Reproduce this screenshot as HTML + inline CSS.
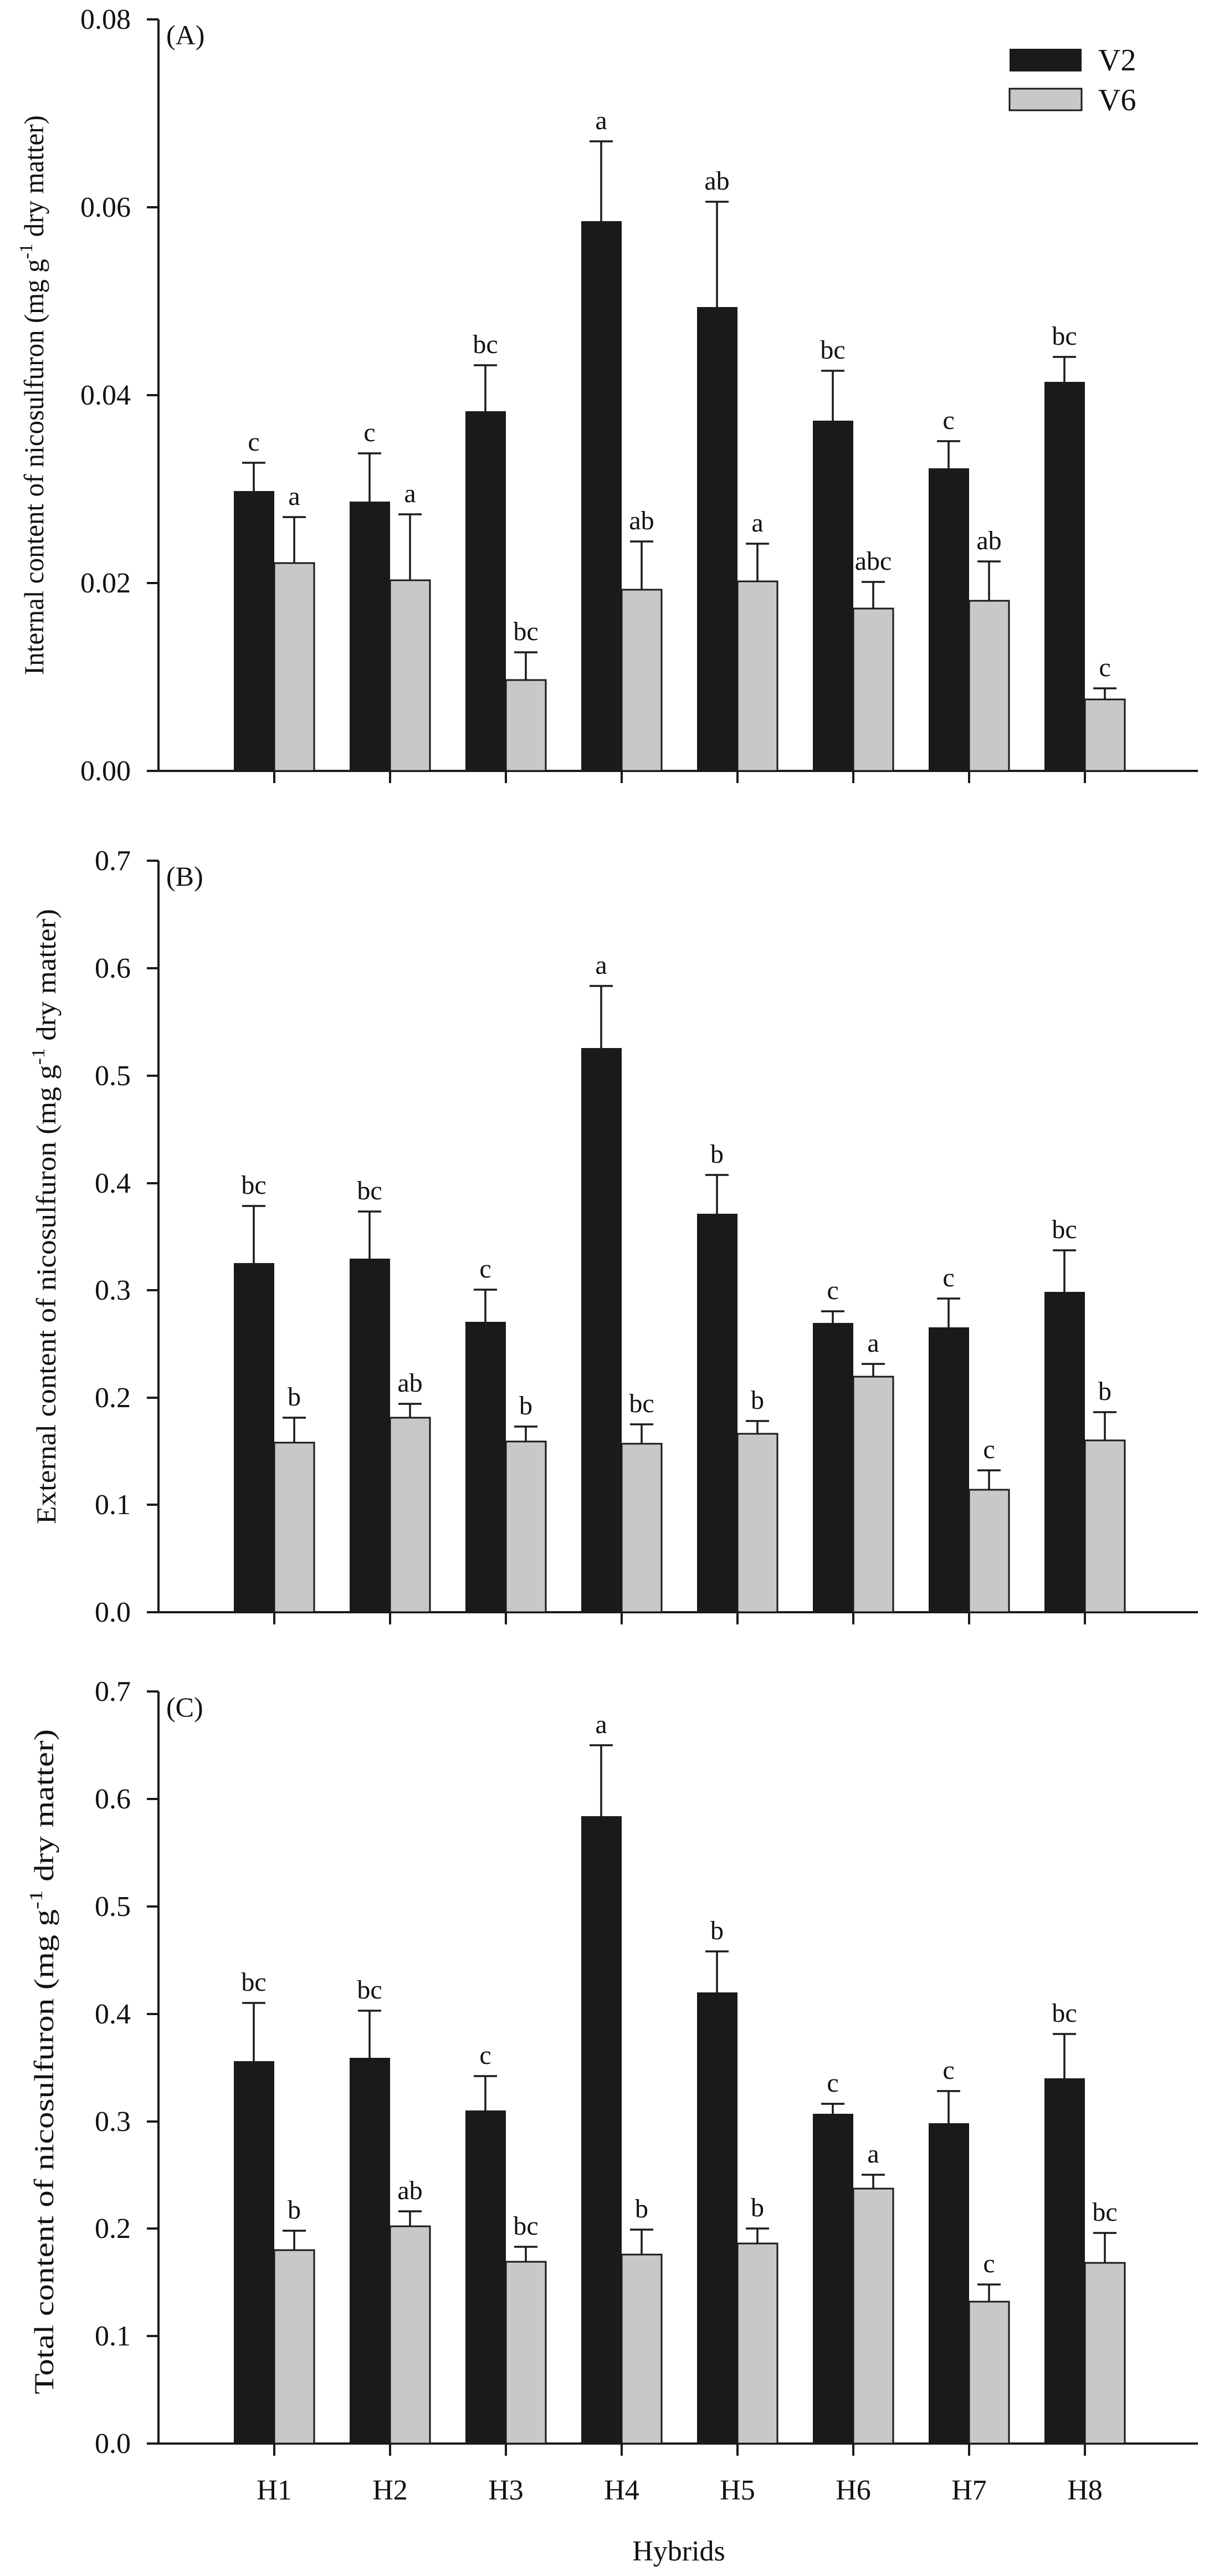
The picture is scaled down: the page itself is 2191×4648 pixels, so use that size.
<!DOCTYPE html>
<html><head><meta charset="utf-8"><style>
html,body{margin:0;padding:0;background:#fff;}
svg{display:block;}
text{font-family:"Liberation Serif",serif;fill:#111;}
.t{font-size:52px;text-anchor:end;}
.l{font-size:48px;text-anchor:middle;}
.k{fill:#1a1a1a;}
.g{fill:#c8c8c8;stroke:#1a1a1a;stroke-width:3;}
.e{stroke:#1a1a1a;stroke-width:3.5;fill:none;}
.ax{stroke:#1a1a1a;stroke-width:4;fill:none;}
</style></head><body>
<svg width="2191" height="4648" viewBox="0 0 2191 4648" xmlns="http://www.w3.org/2000/svg">
<rect width="2191" height="4648" fill="#fff"/>

<!-- ================= PANEL A ================= -->
<path class="ax" d="M286,35 V1391 M265,1391 H2162 M265,35 H286 M265,374 H286 M265,713 H286 M265,1052 H286
M495,1391 v22 M704,1391 v22 M913,1391 v22 M1122,1391 v22 M1331,1391 v22 M1540,1391 v22 M1749,1391 v22 M1958,1391 v22"/>
<text class="t" x="236" y="52">0.08</text>
<text class="t" x="236" y="391">0.06</text>
<text class="t" x="236" y="730">0.04</text>
<text class="t" x="236" y="1069">0.02</text>
<text class="t" x="236" y="1408">0.00</text>
<text x="300" y="80" font-size="50">(A)</text>
<text x="0" y="0" font-size="50" text-anchor="middle" transform="translate(78,713) rotate(-90)" textLength="1010" lengthAdjust="spacingAndGlyphs">Internal content of nicosulfuron (mg g<tspan dy="-20" font-size="34">-1</tspan><tspan dy="20"> dry matter)</tspan></text>
<!-- legend -->
<rect x="1822" y="88" width="130" height="41" class="k"/>
<rect x="1822" y="160" width="130" height="39" class="g"/>
<text x="1982" y="127" font-size="56">V2</text>
<text x="1982" y="199" font-size="56">V6</text>
<!-- bars A -->
<rect class="k" x="422" y="886" width="73" height="505"/><rect class="g" x="495" y="1016" width="72" height="375"/>
<rect class="k" x="631" y="905" width="73" height="486"/><rect class="g" x="704" y="1047" width="72" height="344"/>
<rect class="k" x="840" y="742" width="73" height="649"/><rect class="g" x="913" y="1227" width="72" height="164"/>
<rect class="k" x="1049" y="399" width="73" height="992"/><rect class="g" x="1122" y="1064" width="72" height="327"/>
<rect class="k" x="1258" y="554" width="73" height="837"/><rect class="g" x="1331" y="1049" width="72" height="342"/>
<rect class="k" x="1467" y="759" width="73" height="632"/><rect class="g" x="1540" y="1098" width="72" height="293"/>
<rect class="k" x="1676" y="845" width="73" height="546"/><rect class="g" x="1749" y="1084" width="72" height="307"/>
<rect class="k" x="1885" y="689" width="73" height="702"/><rect class="g" x="1958" y="1262" width="72" height="129"/>
<path class="e" d="
M458,886V835M437,835h42 M531,1016V933M510,933h42
M667,905V818M646,818h42 M740,1047V928M719,928h42
M876,742V659M855,659h42 M949,1227V1177M928,1177h42
M1085,399V255M1064,255h42 M1158,1064V977M1137,977h42
M1294,554V364M1273,364h42 M1367,1049V981M1346,981h42
M1503,759V669M1482,669h42 M1576,1098V1050M1555,1050h42
M1712,845V796M1691,796h42 M1785,1084V1013M1764,1013h42
M1921,689V644M1900,644h42 M1994,1262V1242M1973,1242h42"/>
<text class="l" x="458" y="813">c</text><text class="l" x="531" y="911">a</text>
<text class="l" x="667" y="796">c</text><text class="l" x="740" y="906">a</text>
<text class="l" x="876" y="637">bc</text><text class="l" x="949" y="1155">bc</text>
<text class="l" x="1085" y="233">a</text><text class="l" x="1158" y="955">ab</text>
<text class="l" x="1294" y="342">ab</text><text class="l" x="1367" y="959">a</text>
<text class="l" x="1503" y="647">bc</text><text class="l" x="1576" y="1028">abc</text>
<text class="l" x="1712" y="774">c</text><text class="l" x="1785" y="991">ab</text>
<text class="l" x="1921" y="622">bc</text><text class="l" x="1994" y="1220">c</text>

<!-- ================= PANEL B ================= -->
<path class="ax" d="M286,1553 V2909 M265,2909 H2162
M265,1553H286 M265,1747H286 M265,1941H286 M265,2135H286 M265,2328H286 M265,2522H286 M265,2715H286
M495,2909 v22 M704,2909 v22 M913,2909 v22 M1122,2909 v22 M1331,2909 v22 M1540,2909 v22 M1749,2909 v22 M1958,2909 v22"/>
<text class="t" x="236" y="1570">0.7</text>
<text class="t" x="236" y="1764">0.6</text>
<text class="t" x="236" y="1958">0.5</text>
<text class="t" x="236" y="2152">0.4</text>
<text class="t" x="236" y="2345">0.3</text>
<text class="t" x="236" y="2539">0.2</text>
<text class="t" x="236" y="2732">0.1</text>
<text class="t" x="236" y="2926">0.0</text>
<text x="300" y="1598" font-size="50">(B)</text>
<text x="0" y="0" font-size="50" text-anchor="middle" transform="translate(100,2195) rotate(-90)" textLength="1110" lengthAdjust="spacingAndGlyphs">External content of nicosulfuron (mg g<tspan dy="-20" font-size="34">-1</tspan><tspan dy="20"> dry matter)</tspan></text>
<rect class="k" x="422" y="2279" width="73" height="630"/><rect class="g" x="495" y="2603" width="72" height="306"/>
<rect class="k" x="631" y="2271" width="73" height="638"/><rect class="g" x="704" y="2558" width="72" height="351"/>
<rect class="k" x="840" y="2385" width="73" height="524"/><rect class="g" x="913" y="2601" width="72" height="308"/>
<rect class="k" x="1049" y="1891" width="73" height="1018"/><rect class="g" x="1122" y="2605" width="72" height="304"/>
<rect class="k" x="1258" y="2190" width="73" height="719"/><rect class="g" x="1331" y="2587" width="72" height="322"/>
<rect class="k" x="1467" y="2387" width="73" height="522"/><rect class="g" x="1540" y="2484" width="72" height="425"/>
<rect class="k" x="1676" y="2395" width="73" height="514"/><rect class="g" x="1749" y="2688" width="72" height="221"/>
<rect class="k" x="1885" y="2331" width="73" height="578"/><rect class="g" x="1958" y="2599" width="72" height="310"/>
<path class="e" d="
M458,2279V2176M437,2176h42 M531,2603V2558M510,2558h42
M667,2271V2186M646,2186h42 M740,2558V2533M719,2533h42
M876,2385V2327M855,2327h42 M949,2601V2574M928,2574h42
M1085,1891V1779M1064,1779h42 M1158,2605V2570M1137,2570h42
M1294,2190V2120M1273,2120h42 M1367,2587V2564M1346,2564h42
M1503,2387V2366M1482,2366h42 M1576,2484V2461M1555,2461h42
M1712,2395V2343M1691,2343h42 M1785,2688V2653M1764,2653h42
M1921,2331V2256M1900,2256h42 M1994,2599V2548M1973,2548h42"/>
<text class="l" x="458" y="2154">bc</text><text class="l" x="531" y="2536">b</text>
<text class="l" x="667" y="2164">bc</text><text class="l" x="740" y="2511">ab</text>
<text class="l" x="876" y="2305">c</text><text class="l" x="949" y="2552">b</text>
<text class="l" x="1085" y="1757">a</text><text class="l" x="1158" y="2548">bc</text>
<text class="l" x="1294" y="2098">b</text><text class="l" x="1367" y="2542">b</text>
<text class="l" x="1503" y="2344">c</text><text class="l" x="1576" y="2439">a</text>
<text class="l" x="1712" y="2321">c</text><text class="l" x="1785" y="2631">c</text>
<text class="l" x="1921" y="2234">bc</text><text class="l" x="1994" y="2526">b</text>

<!-- ================= PANEL C ================= -->
<path class="ax" d="M286,3052 V4409 M265,4409 H2162
M265,3052H286 M265,3246H286 M265,3440H286 M265,3634H286 M265,3828H286 M265,4021H286 M265,4215H286
M495,4409 v22 M704,4409 v22 M913,4409 v22 M1122,4409 v22 M1331,4409 v22 M1540,4409 v22 M1749,4409 v22 M1958,4409 v22"/>
<text class="t" x="236" y="3069">0.7</text>
<text class="t" x="236" y="3263">0.6</text>
<text class="t" x="236" y="3457">0.5</text>
<text class="t" x="236" y="3651">0.4</text>
<text class="t" x="236" y="3845">0.3</text>
<text class="t" x="236" y="4038">0.2</text>
<text class="t" x="236" y="4232">0.1</text>
<text class="t" x="236" y="4426">0.0</text>
<text x="300" y="3097" font-size="50">(C)</text>
<text x="0" y="0" font-size="50" text-anchor="middle" transform="translate(96,3720) rotate(-90)" textLength="1200" lengthAdjust="spacingAndGlyphs">Total content of nicosulfuron (mg g<tspan dy="-20" font-size="34">-1</tspan><tspan dy="20"> dry matter)</tspan></text>
<rect class="k" x="422" y="3719" width="73" height="690"/><rect class="g" x="495" y="4060" width="72" height="349"/>
<rect class="k" x="631" y="3713" width="73" height="696"/><rect class="g" x="704" y="4017" width="72" height="392"/>
<rect class="k" x="840" y="3808" width="73" height="601"/><rect class="g" x="913" y="4081" width="72" height="328"/>
<rect class="k" x="1049" y="3277" width="73" height="1132"/><rect class="g" x="1122" y="4068" width="72" height="341"/>
<rect class="k" x="1258" y="3595" width="73" height="814"/><rect class="g" x="1331" y="4048" width="72" height="361"/>
<rect class="k" x="1467" y="3814" width="73" height="595"/><rect class="g" x="1540" y="3949" width="72" height="460"/>
<rect class="k" x="1676" y="3831" width="73" height="578"/><rect class="g" x="1749" y="4153" width="72" height="256"/>
<rect class="k" x="1885" y="3750" width="73" height="659"/><rect class="g" x="1958" y="4083" width="72" height="326"/>
<path class="e" d="
M458,3719V3614M437,3614h42 M531,4060V4025M510,4025h42
M667,3713V3628M646,3628h42 M740,4017V3990M719,3990h42
M876,3808V3746M855,3746h42 M949,4081V4054M928,4054h42
M1085,3277V3149M1064,3149h42 M1158,4068V4023M1137,4023h42
M1294,3595V3521M1273,3521h42 M1367,4048V4021M1346,4021h42
M1503,3814V3796M1482,3796h42 M1576,3949V3924M1555,3924h42
M1712,3831V3773M1691,3773h42 M1785,4153V4122M1764,4122h42
M1921,3750V3670M1900,3670h42 M1994,4083V4029M1973,4029h42"/>
<text class="l" x="458" y="3592">bc</text><text class="l" x="531" y="4003">b</text>
<text class="l" x="667" y="3606">bc</text><text class="l" x="740" y="3968">ab</text>
<text class="l" x="876" y="3724">c</text><text class="l" x="949" y="4032">bc</text>
<text class="l" x="1085" y="3127">a</text><text class="l" x="1158" y="4001">b</text>
<text class="l" x="1294" y="3499">b</text><text class="l" x="1367" y="3999">b</text>
<text class="l" x="1503" y="3774">c</text><text class="l" x="1576" y="3902">a</text>
<text class="l" x="1712" y="3751">c</text><text class="l" x="1785" y="4100">c</text>
<text class="l" x="1921" y="3648">bc</text><text class="l" x="1994" y="4007">bc</text>

<!-- x labels -->
<g font-size="52" text-anchor="middle">
<text x="495" y="4510">H1</text><text x="704" y="4510">H2</text><text x="913" y="4510">H3</text><text x="1122" y="4510">H4</text>
<text x="1331" y="4510">H5</text><text x="1540" y="4510">H6</text><text x="1749" y="4510">H7</text><text x="1958" y="4510">H8</text>
<text x="1225" y="4620">Hybrids</text>
</g>
</svg>
</body></html>
